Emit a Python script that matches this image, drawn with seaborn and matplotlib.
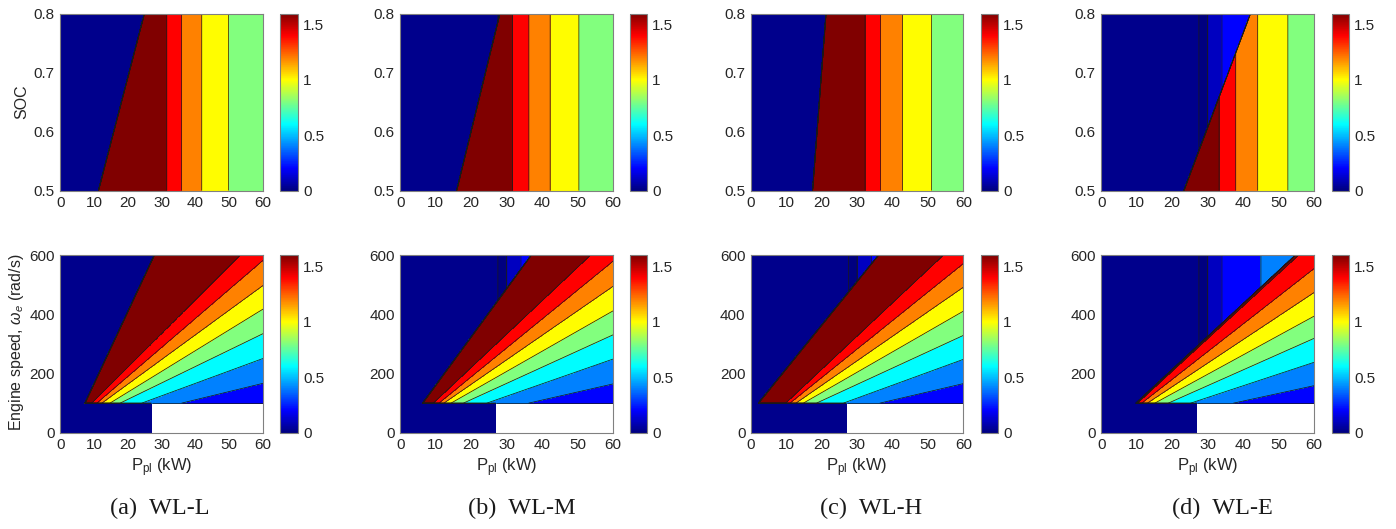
import numpy as np
import matplotlib
matplotlib.use("Agg")
import matplotlib.pyplot as plt
import seaborn as sns
from matplotlib.colors import Normalize
from matplotlib.cm import ScalarMappable

sns.set_theme(style="white")
plt.rcParams['font.family'] = ['Liberation Sans', 'DejaVu Sans']
plt.rcParams['mathtext.fontset'] = 'custom'
plt.rcParams['mathtext.rm'] = 'Liberation Sans'
plt.rcParams['mathtext.it'] = 'Liberation Sans:italic'

# ---------------------------------------------------------------- data
captions = ["(a)  WL-L", "(b)  WL-M", "(c)  WL-H", "(d)  WL-E"]

p_ticks = [0, 10, 20, 30, 40, 50, 60]
soc_ticks = [0.5, 0.6, 0.7, 0.8]
speed_ticks = [0, 200, 400, 600]
cbar_ticks = [0, 0.5, 1, 1.5]
cbar_labels = ["0", "0.5", "1", "1.5"]
value_max = 1.6

# values of the regions
fan_values = [1.6, 1.4, 1.2, 1.0, 0.8, 0.6, 0.4, 0.2]   # band below each fan boundary
strip_values = [1.6, 1.4, 1.2, 1.0, 0.8]               # vertical strips of the SOC maps
low_power_values = [0.02, 0.0, 0.1, 0.2, 0.4]          # region left of the switching line
low_power_edges = [27.5, 30.0, 34.0, 45.0]             # kW

# SOC maps: switching line (P at SOC=0.5 and at SOC=0.8) and strip edges (kW)
soc_line_bottom = [11.3, 15.9, 17.4, 23.3]
soc_line_top = [24.9, 28.1, 21.2, 42.1]
soc_strip_edges = [
    [31.5, 35.9, 41.9, 49.8],
    [31.6, 36.3, 42.3, 50.4],
    [32.2, 36.6, 42.8, 51.0],
    [33.2, 37.9, 44.1, 52.6],
]

# speed maps: fan boundaries, start P at the minimum speed, end point (P, speed)
speed_min = 100.0      # rad/s
white_edge = 27.0      # kW, operating limit below the minimum speed
fan_start = [
    [7.3, 9.3, 10.8, 12.3, 14.7, 17.7, 24.1, 35.9],
    [6.3, 9.3, 10.9, 12.3, 14.3, 17.8, 24.4, 36.2],
    [2.1, 9.8, 11.0, 12.7, 14.8, 18.5, 26.1, 36.4],
    [9.8, 10.2, 11.4, 13.0, 15.1, 18.9, 25.2, 37.3],
]
fan_end_p = [
    [27.8, 53.2, 60, 60, 60, 60, 60, 60],
    [36.9, 53.6, 60, 60, 60, 60, 60, 60],
    [36.0, 54.3, 60, 60, 60, 60, 60, 60],
    [54.7, 55.6, 60, 60, 60, 60, 60, 60],
]
fan_end_speed = [
    [600, 600, 583, 498, 418, 335, 251, 167],
    [600, 600, 580, 495, 412, 331, 249, 165],
    [600, 600, 572, 492, 411, 329, 248, 166],
    [600, 600, 555, 474, 394, 319, 238, 159],
]

# ---------------------------------------------------------------- fields
p_grid = np.linspace(0, 60, 1201)
soc_grid = np.linspace(0.5, 0.8, 601)
speed_grid = np.linspace(0, 600, 1201)

low_vals = np.array(low_power_values)


def soc_field(i):
    PP, SS = np.meshgrid(p_grid, soc_grid)
    p_line = soc_line_bottom[i] + (soc_line_top[i] - soc_line_bottom[i]) * (SS - 0.5) / 0.3
    strip = np.array(strip_values)[np.searchsorted(soc_strip_edges[i], PP)]
    left = low_vals[np.searchsorted(low_power_edges, PP)]
    return np.where(PP < p_line, left, strip)


def speed_field(i):
    PP, WW = np.meshgrid(p_grid, speed_grid)
    n = np.zeros(PP.shape, dtype=int)
    for s, ep, ew in zip(fan_start[i], fan_end_p[i], fan_end_speed[i]):
        line = speed_min + (ew - speed_min) / (ep - s) * (PP - s)
        n += (WW < line)
    left = low_vals[np.searchsorted(low_power_edges, PP)]
    vals = np.where(n == 0, left, np.array([0.0] + fan_values)[n])
    Z = np.where(WW >= speed_min, vals,
                 np.where(PP < white_edge, low_power_values[0], np.nan))
    return np.ma.masked_invalid(Z)


# ---------------------------------------------------------------- styling
# classic piecewise-linear "jet" (breakpoints every 1/8)
jet_nodes = [(0, 0, 0.5), (0, 0, 1), (0, 0.5, 1), (0, 1, 1), (0.5, 1, 0.5),
             (1, 1, 0), (1, 0.5, 0), (1, 0, 0), (0.5, 0, 0)]
cmap = sns.blend_palette(jet_nodes, n_colors=256, as_cmap=True)
norm = Normalize(0, value_max)
band_reps = [0.0, 0.02, 0.1, 0.2, 0.4, 0.6, 0.8, 1.0, 1.2, 1.4, 1.6]
band_edges = [-0.01, 0.01, 0.06, 0.15, 0.3, 0.5, 0.7, 0.9, 1.1, 1.3, 1.5, 1.7]
band_colors = [cmap(norm(v)) for v in band_reps]

W, H = 1396, 529
fig = plt.figure(figsize=(W / 100, H / 100), dpi=100)


def rect(l, t, r, b):
    return [l / W, 1 - b / H, (r - l) / W, (b - t) / H]


ax_x = [(60.3, 263.0), (400.3, 613.0), (751.0, 963.3), (1101.3, 1314.0)]
cb_x = [(280.0, 297.5), (630.0, 646.5), (981.0, 997.5), (1332.0, 1348.5)]
rows_y = [(13.5, 190.5), (255.3, 432.7)]
caption_x = [160, 522, 871, 1222]

frame_col = "0.5"
text_col = "#262626"


def style_axes(ax):
    for sp in ax.spines.values():
        sp.set_color(frame_col)
        sp.set_linewidth(0.8)
    ax.tick_params(direction="in", length=3, width=0.6, top=True, right=True,
                   color=frame_col, labelcolor=text_col, labelsize=11, pad=4)


def add_cbar(cax):
    sm = ScalarMappable(norm=norm, cmap=cmap)
    cb = fig.colorbar(sm, cax=cax)
    cb.set_ticks(cbar_ticks)
    cb.set_ticklabels(cbar_labels)
    cb.outline.set_edgecolor(frame_col)
    cb.outline.set_linewidth(0.8)
    cax.tick_params(direction="in", length=3, width=0.6, color=frame_col,
                    labelcolor=text_col, labelsize=11, pad=4)


for i in range(4):
    # SOC map
    t, b = rows_y[0]
    ax = fig.add_axes(rect(ax_x[i][0], t, ax_x[i][1], b))
    Z = soc_field(i)
    ax.contourf(p_grid, soc_grid, Z, levels=band_edges, colors=band_colors)
    ax.contour(p_grid, soc_grid, Z, levels=band_edges[1:-1], colors="k", linewidths=0.5)
    ax.set_xlim(0, 60)
    ax.set_ylim(0.5, 0.8)
    ax.set_xticks(p_ticks)
    ax.set_yticks(soc_ticks)
    ax.set_yticklabels([f"{v:.1f}" for v in soc_ticks])
    style_axes(ax)
    add_cbar(fig.add_axes(rect(cb_x[i][0], t, cb_x[i][1], b)))

    # engine-speed map
    t, b = rows_y[1]
    ax = fig.add_axes(rect(ax_x[i][0], t, ax_x[i][1], b))
    Z = speed_field(i)
    ax.contourf(p_grid, speed_grid, Z, levels=band_edges, colors=band_colors)
    ax.contour(p_grid, speed_grid, Z, levels=band_edges[1:-1], colors="k", linewidths=0.5)
    ax.hlines(speed_min, white_edge, 60, colors="k", linewidth=0.5)
    ax.set_xlim(0, 60)
    ax.set_ylim(0, 600)
    ax.set_xticks(p_ticks)
    ax.set_yticks(speed_ticks)
    ax.set_xlabel(r"P$_{\mathregular{pl}}$ (kW)", fontsize=12, color=text_col, labelpad=3)
    style_axes(ax)
    add_cbar(fig.add_axes(rect(cb_x[i][0], t, cb_x[i][1], b)))

    fig.text(caption_x[i] / W, 1 - 508 / H, captions[i], ha="center", va="center",
             fontsize=17.5, family=["Liberation Serif", "DejaVu Serif"], color="k")

fig.text(22 / W, 1 - 102 / H, "SOC", rotation=90, ha="center", va="center",
         fontsize=11.5, color=text_col)
fig.text(17 / W, 1 - 342 / H, r"Engine speed, $\omega_e$ (rad/s)", rotation=90,
         ha="center", va="center", fontsize=11.5, color=text_col)

fig.savefig("out.png", dpi=100)
